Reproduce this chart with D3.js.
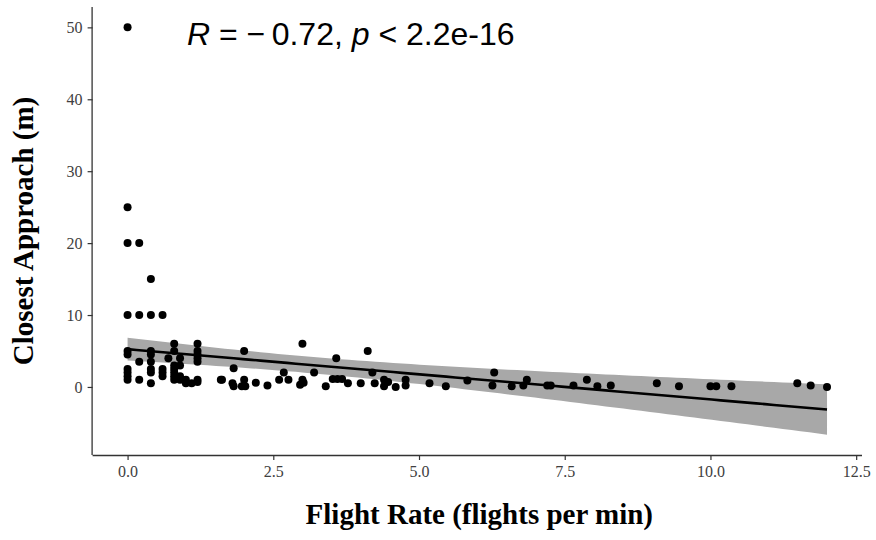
<!DOCTYPE html>
<html><head><meta charset="utf-8">
<script src="https://cdn.jsdelivr.net/npm/d3@7"></script>
<style>body{margin:0;background:#fff}svg{display:block}</style>
</head><body><svg id="c" width="876" height="540"></svg>
<script>
// Flight rate (flights per min) and closest approach (m)
const flightRate = [
  0,0,0,0,0,0,0,0,0,0,
  0.2,0.2,0.2,0.2,
  0.4,0.4,0.4,0.4,0.4,0.4,0.4,0.4,
  0.6,0.6,0.6,0.6,
  0.7,
  0.8,0.8,0.8,0.8,0.8,0.8,0.8,
  0.9,0.9,0.9,0.9,
  1.0,1.0,1.1,
  1.2,1.2,1.2,1.2,1.2,1.2,1.2,
  1.6,
  1.62,1.82,1.8,1.82,2.0,2.0,1.96,2.02,2.2,2.4,2.6,2.68,2.76,3.0,3.0,2.96,3.02,3.2,3.4,
  3.58,3.52,3.6,3.68,3.78,4.0,4.12,4.2,4.24,4.4,4.4,4.47,4.6,4.77,4.77,5.18,
  5.46,5.83,6.29,6.26,6.59,6.79,6.85,7.2,7.26,7.65,7.88,8.06,8.29,
  9.08,9.46,10.0,10.1,10.36,11.49,11.72,12.0
];
const closestApproach = [
  50,25,20,10,5,4.5,2.5,2,1.5,1,
  20,10,3.5,1,
  15,10,5,4.5,3.5,2.5,2,0.5,
  10,2.5,2,1.5,
  4,
  6,5,3,2.5,2,1.5,1,
  4,3,1.5,1,
  1,0.5,0.5,
  6,5,4.5,4,3.5,1,0.7,
  1,
  1.0,2.6,0.5,0.1,5.0,1.0,0.1,0.1,0.6,0.2,1.0,2.0,1.0,6.0,1.0,0.3,0.6,2.0,0.1,
  4.0,1.1,1.1,1.1,0.5,0.5,5.0,2.0,0.5,1.0,0.1,0.7,0.0,1.0,0.2,0.5,
  0.1,0.9,2.0,0.2,0.1,0.2,1.0,0.2,0.2,0.2,1.0,0.1,0.2,
  0.5,0.1,0.1,0.1,0.1,0.5,0.2,0.0
];
const xTicks = [0, 2.5, 5, 7.5, 10, 12.5];
const yTicks = [0, 10, 20, 30, 40, 50];
const xTitle = "Flight Rate (flights per min)";
const yTitle = "Closest Approach (m)";
const statLabel = ["R", " = \u2212\u20090.72, ", "p", " < 2.2e-16"];

const pts = flightRate.map((x, i) => ({x, y: closestApproach[i]}));
const n = pts.length;
const mx = d3.mean(flightRate), my = d3.mean(closestApproach);
const sxx = d3.sum(flightRate, x => (x - mx) ** 2);
const sxy = d3.sum(pts, p => (p.x - mx) * (p.y - my));
const slope = sxy / sxx, icpt = my - slope * mx;
const sse = d3.sum(pts, p => (p.y - icpt - slope * p.x) ** 2);
const s = Math.sqrt(sse / (n - 2));
const tq = 1.984;
const xr = d3.extent(flightRate);
const fitX = d3.range(80).map(i => xr[0] + (xr[1] - xr[0]) * i / 79);
const fit = fitX.map(x => {
  const f = icpt + slope * x;
  const se = s * Math.sqrt(1 / n + (x - mx) ** 2 / sxx);
  return {x, f, lo: f - tq * se, hi: f + tq * se};
});

const svg = d3.select("#c");
const L = 92.6, R = 862, T = 7, B = 455;
const xpad = (xr[1] - xr[0]) * 0.05;
const yMin = Math.min(d3.min(closestApproach), d3.min(fit, d => d.lo));
const yMax = Math.max(d3.max(closestApproach), d3.max(fit, d => d.hi));
const ypad = (yMax - yMin) * 0.05;
const x = d3.scaleLinear().domain([xr[0] - xpad, xr[1] + xpad]).range([L, R]);
const y = d3.scaleLinear().domain([yMin - ypad, yMax + ypad]).range([B, T]);

svg.append("path").datum(fit)
  .attr("d", d3.area().x(d => x(d.x)).y0(d => y(d.lo)).y1(d => y(d.hi)))
  .attr("fill", "#a8a8a8");
svg.append("path").datum(fit)
  .attr("d", d3.line().x(d => x(d.x)).y(d => y(d.f)))
  .attr("fill", "none").attr("stroke", "#000").attr("stroke-width", 2.6);
svg.append("g").selectAll("circle").data(pts).join("circle")
  .attr("cx", d => x(d.x)).attr("cy", d => y(d.y)).attr("r", 4).attr("fill", "#000");

const ax = svg.append("g").attr("transform", `translate(0,${B})`)
  .call(d3.axisBottom(x).tickValues(xTicks).tickFormat(d3.format(".1f")).tickSize(5).tickPadding(6).tickSizeOuter(0));
const ay = svg.append("g").attr("transform", `translate(${L},0)`)
  .call(d3.axisLeft(y).tickValues(yTicks).tickSize(5).tickPadding(5).tickSizeOuter(0));
[ax, ay].forEach(g => {
  g.select(".domain").attr("stroke", "#333").attr("stroke-width", 1.3);
  g.selectAll(".tick line").attr("stroke", "#333").attr("stroke-width", 1.2);
  g.selectAll(".tick text").attr("fill", "#404040")
    .attr("font-family", "'Liberation Serif', 'Times New Roman', serif").attr("font-size", 16);
});
ax.select(".domain").attr("d", `M${L},0.5H${R}`);
ay.select(".domain").attr("d", `M-0.5,${B}V${T}`);

svg.append("text").attr("x", (L + R) / 2 + 2).attr("y", 524).attr("text-anchor", "middle")
  .attr("font-family", "'Liberation Serif', 'Times New Roman', serif").attr("font-weight", "bold")
  .attr("font-size", 29).attr("fill", "#000").text(xTitle);
svg.append("text").attr("transform", `translate(33,${(T + B) / 2}) rotate(-90)`).attr("text-anchor", "middle")
  .attr("font-family", "'Liberation Serif', 'Times New Roman', serif").attr("font-weight", "bold")
  .attr("font-size", 29).attr("fill", "#000").text(yTitle);

const st = svg.append("text").attr("x", 187).attr("y", 45)
  .attr("font-family", "'Liberation Sans', Arial, sans-serif").attr("font-size", 32).attr("fill", "#000");
statLabel.forEach((t, i) => st.append("tspan").attr("font-style", i % 2 === 0 ? "italic" : "normal").text(t));
</script></body></html>
